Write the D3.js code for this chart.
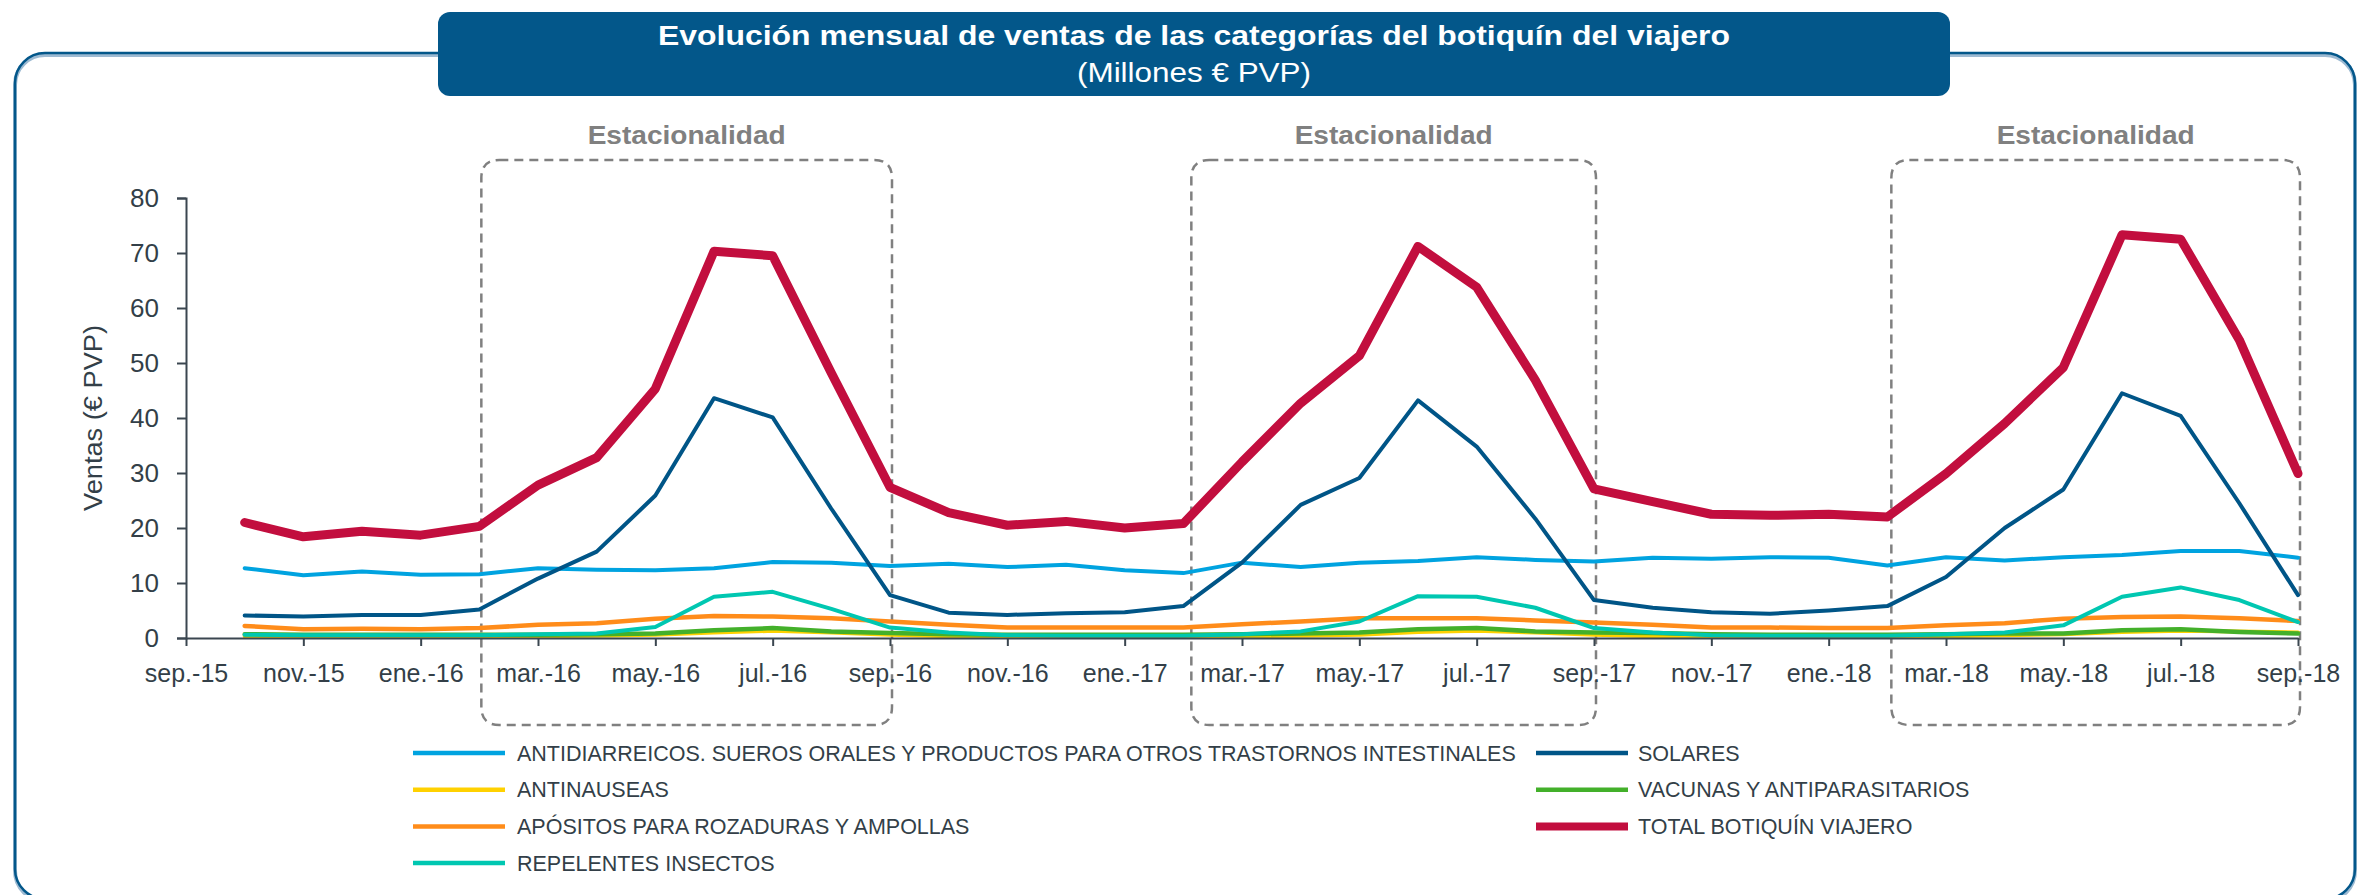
<!DOCTYPE html>
<html>
<head>
<meta charset="utf-8">
<script src="https://cdn.jsdelivr.net/npm/d3@7"></script>
<style>
  html, body { margin: 0; padding: 0; background: #ffffff; }
  svg { display: block; font-family: "Liberation Sans", Arial, Helvetica, sans-serif; }
</style>
</head>
<body>
<svg id="chart" width="2361" height="895"></svg>
<script>
// Axis categories (monthly date axis, sep.-15 .. sep.-18)
const months = [
  "sep.-15","oct.-15","nov.-15","dic.-15","ene.-16","feb.-16","mar.-16","abr.-16","may.-16","jun.-16","jul.-16","ago.-16",
  "sep.-16","oct.-16","nov.-16","dic.-16","ene.-17","feb.-17","mar.-17","abr.-17","may.-17","jun.-17","jul.-17","ago.-17",
  "sep.-17","oct.-17","nov.-17","dic.-17","ene.-18","feb.-18","mar.-18","abr.-18","may.-18","jun.-18","jul.-18","ago.-18",
  "sep.-18"
];
// Months with data (oct.-15 .. sep.-18)
const dataMonths = months.slice(1);
// Labelled ticks on the x axis
const tickLabels = [
  "sep.-15","nov.-15","ene.-16","mar.-16","may.-16","jul.-16","sep.-16","nov.-16","ene.-17","mar.-17",
  "may.-17","jul.-17","sep.-17","nov.-17","ene.-18","mar.-18","may.-18","jul.-18","sep.-18"
];
const yTicks = [0, 10, 20, 30, 40, 50, 60, 70, 80];

// Sales, millions € PVP
const antidiarreicos = [
  12.7, 11.4, 12.1, 11.5, 11.6, 12.7, 12.4, 12.3, 12.7, 13.8, 13.7, 13.1,
  13.5, 12.9, 13.3, 12.3, 11.8, 13.7, 12.9, 13.7, 14.0, 14.7, 14.2, 13.9,
  14.6, 14.4, 14.7, 14.6, 13.2, 14.7, 14.1, 14.7, 15.1, 15.8, 15.8, 14.6
];
const solares = [
  4.1, 3.9, 4.2, 4.2, 5.2, 10.8, 15.7, 25.9, 43.6, 40.1, 23.5, 7.8,
  4.6, 4.2, 4.5, 4.7, 5.8, 13.7, 24.2, 29.1, 43.2, 34.8, 21.7, 6.9,
  5.5, 4.7, 4.4, 5.0, 5.8, 11.1, 20.0, 27.0, 44.5, 40.4, 24.5, 7.8
];
const antinauseas = [
  0.3, 0.2, 0.2, 0.2, 0.2, 0.3, 0.4, 0.6, 1.0, 1.3, 1.0, 0.6,
  0.3, 0.2, 0.2, 0.2, 0.2, 0.3, 0.4, 0.6, 1.1, 1.3, 1.0, 0.6,
  0.3, 0.2, 0.2, 0.2, 0.2, 0.3, 0.5, 0.7, 1.1, 1.3, 1.2, 1.0
];
const vacunas = [
  0.7, 0.6, 0.6, 0.6, 0.6, 0.6, 0.7, 0.8, 1.4, 1.8, 1.2, 0.9,
  0.7, 0.6, 0.6, 0.6, 0.6, 0.7, 0.8, 1.0, 1.6, 1.8, 1.2, 1.0,
  0.9, 0.7, 0.6, 0.6, 0.6, 0.7, 0.8, 0.8, 1.4, 1.6, 1.1, 0.8
];
const apositos = [
  2.2, 1.6, 1.7, 1.6, 1.8, 2.4, 2.7, 3.5, 4.0, 3.9, 3.6, 3.0,
  2.4, 1.9, 1.9, 1.9, 1.9, 2.5, 3.0, 3.6, 3.6, 3.6, 3.2, 2.8,
  2.4, 1.9, 1.9, 1.8, 1.8, 2.3, 2.7, 3.5, 3.8, 3.9, 3.6, 3.1
];
const total = [
  21.0, 18.4, 19.4, 18.7, 20.3, 27.8, 32.8, 45.3, 70.3, 69.5, 48.2, 27.4,
  22.8, 20.5, 21.2, 20.0, 20.8, 32.0, 42.7, 51.3, 71.2, 63.8, 46.9, 27.1,
  24.8, 22.5, 22.3, 22.5, 22.0, 29.9, 39.0, 49.2, 73.3, 72.5, 54.2, 29.9
];
const repelentes = [
  0.6, 0.5, 0.5, 0.5, 0.5, 0.7, 0.8, 2.0, 7.5, 8.4, 5.3, 1.9,
  1.0, 0.5, 0.4, 0.4, 0.4, 0.7, 1.2, 3.0, 7.6, 7.5, 5.5, 1.8,
  1.0, 0.5, 0.4, 0.4, 0.4, 0.7, 1.0, 2.3, 7.5, 9.2, 6.9, 2.9
];

// Series in drawing order (later ones on top)
const series = [
  { name: "ANTIDIARREICOS. SUEROS ORALES Y PRODUCTOS PARA OTROS TRASTORNOS INTESTINALES", values: antidiarreicos, color: "#00a3e0", width: 4 },
  { name: "SOLARES", values: solares, color: "#005587", width: 4 },
  { name: "ANTINAUSEAS", values: antinauseas, color: "#ffd100", width: 4 },
  { name: "VACUNAS Y ANTIPARASITARIOS", values: vacunas, color: "#43b02a", width: 4.5 },
  { name: "APÓSITOS PARA ROZADURAS Y AMPOLLAS", values: apositos, color: "#ff8c1a", width: 4.5 },
  { name: "TOTAL BOTIQUÍN VIAJERO", values: total, color: "#c20e3e", width: 9 },
  { name: "REPELENTES INSECTOS", values: repelentes, color: "#00c7b1", width: 4 }
];

// Legend layout: two columns, rows in this order
const legendLeft = ["ANTIDIARREICOS. SUEROS ORALES Y PRODUCTOS PARA OTROS TRASTORNOS INTESTINALES", "ANTINAUSEAS", "APÓSITOS PARA ROZADURAS Y AMPOLLAS", "REPELENTES INSECTOS"];
const legendRight = ["SOLARES", "VACUNAS Y ANTIPARASITARIOS", "TOTAL BOTIQUÍN VIAJERO"];

// Seasonal windows
const seasonStart = ["feb.-16", "feb.-17", "feb.-18"];
const seasonEnd = ["sep.-16", "sep.-17", "sep.-18"];
const seasonNudge = [2, 8, 4];   // small left-edge offsets of the dashed frames
const seasonLabel = "Estacionalidad";

const svg = d3.select("#chart");
const textColor = "#333f48";
const frameBlue = "#03578a";

// Outer rounded frame
svg.append("rect")
  .attr("x", 15).attr("y", 55).attr("width", 2340).attr("height", 846)
  .attr("rx", 30).attr("ry", 30)
  .attr("fill", "none").attr("stroke", "#9dbad2").attr("stroke-width", 4);
svg.append("rect")
  .attr("x", 15).attr("y", 53).attr("width", 2340).attr("height", 846)
  .attr("rx", 30).attr("ry", 30)
  .attr("fill", "none").attr("stroke", frameBlue).attr("stroke-width", 2.5);

// Title banner
svg.append("rect")
  .attr("x", 438).attr("y", 12).attr("width", 1512).attr("height", 84)
  .attr("rx", 12).attr("ry", 12)
  .attr("fill", frameBlue);
svg.append("text")
  .attr("x", 1194).attr("y", 45)
  .attr("text-anchor", "middle")
  .attr("fill", "#ffffff").attr("font-size", 27).attr("font-weight", "bold")
  .attr("textLength", 1072).attr("lengthAdjust", "spacingAndGlyphs")
  .text("Evolución mensual de ventas de las categorías del botiquín del viajero");
svg.append("text")
  .attr("x", 1194).attr("y", 82)
  .attr("text-anchor", "middle")
  .attr("fill", "#ffffff").attr("font-size", 27)
  .attr("textLength", 234).attr("lengthAdjust", "spacingAndGlyphs")
  .text("(Millones € PVP)");

// Scales
const x = d3.scalePoint().domain(months).range([186, 2298]);
const y = d3.scaleLinear().domain([0, 80]).range([638, 198]);

// Seasonal dashed boxes
const boxTop = 160, boxBottom = 725, r = 18;
seasonStart.forEach((s, i) => {
  const x0 = x(s) + seasonNudge[i], x1 = x(seasonEnd[i]) + 2;
  const p = d3.path();
  p.moveTo(x0 + r, boxTop);
  p.lineTo(x1 - r, boxTop);
  p.quadraticCurveTo(x1, boxTop, x1, boxTop + r);
  p.lineTo(x1, boxBottom - r);
  p.quadraticCurveTo(x1, boxBottom, x1 - r, boxBottom);
  p.lineTo(x0 + r, boxBottom);
  p.quadraticCurveTo(x0, boxBottom, x0, boxBottom - r);
  p.lineTo(x0, boxTop + r);
  p.quadraticCurveTo(x0, boxTop, x0 + r, boxTop);
  svg.append("path")
    .attr("d", p.toString())
    .attr("fill", "none").attr("stroke", "#808080")
    .attr("stroke-width", 2.5).attr("stroke-dasharray", "9,6");
  svg.append("text")
    .attr("x", (x0 + x1) / 2).attr("y", 144)
    .attr("text-anchor", "middle")
    .attr("fill", "#808080").attr("font-size", 26).attr("font-weight", "bold")
    .attr("textLength", 198).attr("lengthAdjust", "spacingAndGlyphs")
    .text(seasonLabel);
});

// Y axis
const yAxis = svg.append("g")
  .attr("transform", "translate(186,0)")
  .call(d3.axisLeft(y).tickValues(yTicks).tickSize(9).tickPadding(18).tickFormat(d3.format("d")));
yAxis.selectAll("text").attr("font-size", 26).attr("fill", textColor).attr("font-family", "Liberation Sans, Arial, sans-serif");
yAxis.selectAll("line, path").attr("stroke", "#3b4650").attr("stroke-width", 2);

svg.append("text")
  .attr("transform", "translate(93,418) rotate(-90)")
  .attr("text-anchor", "middle").attr("dy", "0.35em")
  .attr("fill", textColor).attr("font-size", 26)
  .attr("textLength", 186).attr("lengthAdjust", "spacingAndGlyphs")
  .text("Ventas (€ PVP)");

// Lines
const line = d3.line()
  .x((d, i) => x(dataMonths[i]))
  .y(d => y(d))
  .curve(d3.curveLinear);

svg.append("g").selectAll("path")
  .data(series)
  .join("path")
  .attr("d", d => line(d.values))
  .attr("fill", "none")
  .attr("stroke", d => d.color)
  .attr("stroke-width", d => d.width)
  .attr("stroke-linejoin", "round")
  .attr("stroke-linecap", "round");

// X axis (drawn above the lines)
const xAxis = svg.append("g")
  .attr("transform", "translate(0,638)")
  .call(d3.axisBottom(x).tickValues(tickLabels).tickSize(8).tickPadding(18).tickSizeOuter(0));
xAxis.selectAll("text").attr("font-size", 25).attr("fill", textColor).attr("font-family", "Liberation Sans, Arial, sans-serif");
xAxis.selectAll("line, path").attr("stroke", "#3b4650").attr("stroke-width", 2);

// Legend
const byName = new Map(series.map(s => [s.name, s]));
function legendColumn(names, lx, tx) {
  names.forEach((n, i) => {
    const s = byName.get(n);
    const ly = 753 + i * 36.7;
    svg.append("line")
      .attr("x1", lx).attr("x2", lx + 92).attr("y1", ly).attr("y2", ly)
      .attr("stroke", s.color).attr("stroke-width", s.width > 5 ? 8 : 4.5);
    svg.append("text")
      .attr("x", tx).attr("y", ly).attr("dy", "0.36em")
      .attr("fill", textColor).attr("font-size", 21.5)
      .text(n);
  });
}
legendColumn(legendLeft, 413, 517);
legendColumn(legendRight, 1536, 1638);
</script>
</body>
</html>
